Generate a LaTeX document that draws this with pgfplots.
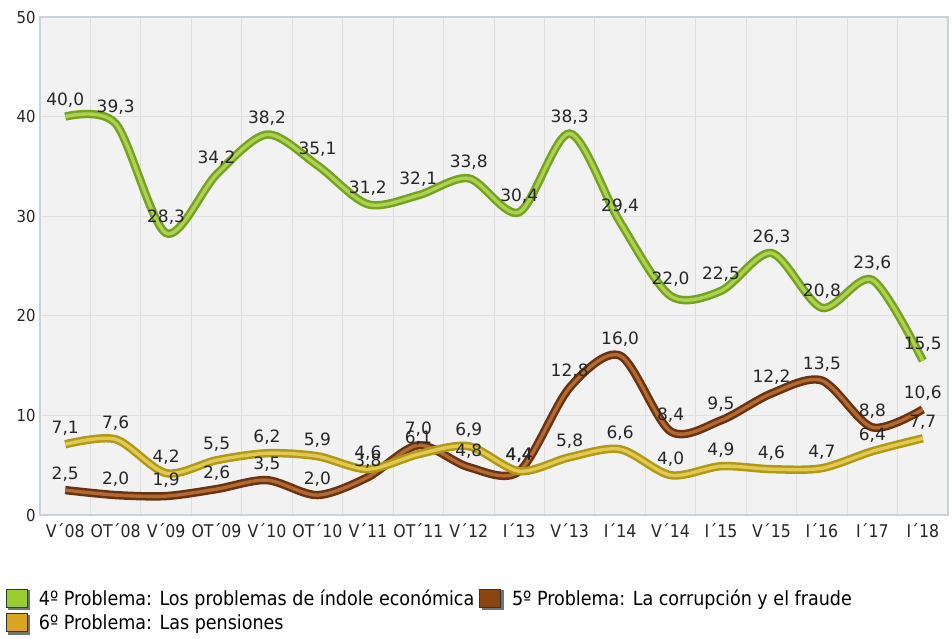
\documentclass[border=0pt]{standalone}
\usepackage{pgfplots}
\pgfplotsset{compat=1.18}
\usepackage{fontspec}
\setmainfont{DejaVu Sans}
\newfontfamily\cond{DejaVu Sans Condensed}
\definecolor{gOut}{HTML}{75A222}
\definecolor{gIn}{HTML}{AED150}
\definecolor{bOut}{HTML}{6A3210}
\definecolor{bIn}{HTML}{B06A32}
\definecolor{yOut}{HTML}{B09818}
\definecolor{yIn}{HTML}{E2CA50}
\definecolor{gLeg}{HTML}{9ACD32}
\definecolor{bLeg}{HTML}{8B4513}
\definecolor{yLeg}{HTML}{DAA520}
\definecolor{frameC}{HTML}{C9D2DD}
\definecolor{gridC}{HTML}{DEDEDE}
\definecolor{bgC}{HTML}{F2F2F2}

\pgfplotstableread{
x green brown yellow
0  40.0  2.5 7.1
1  39.3  2.0 7.6
2  28.3  1.9 4.2
3  34.2  2.6 5.5
4  38.2  3.5 6.2
5  35.1  2.0 5.9
6  31.2  3.8 4.6
7  32.1  7.0 6.1
8  33.8  4.8 6.9
9  30.4  4.4 4.4
10 38.3 12.8 5.8
11 29.4 16.0 6.6
12 22.0  8.4 4.0
13 22.5  9.5 4.9
14 26.3 12.2 4.6
15 20.8 13.5 4.7
16 23.6  8.8 6.4
17 15.5 10.6 7.7
}\datatable

\begin{document}
\begin{tikzpicture}[x=1pt,y=1pt]
\path[use as bounding box] (0,0) rectangle (952,639);
\begin{axis}[
  at={(40pt,124pt)}, anchor=south west,
  scale only axis, width=908pt, height=498pt,
  xmin=-0.5, xmax=17.5, ymin=0, ymax=50,
  axis background/.style={fill=bgC},
  axis line style={draw=frameC, line width=2.5pt},
  xtick={0,...,17},
  xticklabels={V´08,OT´08,V´09,OT´09,V´10,OT´10,V´11,OT´11,V´12,I´13,V´13,I´14,V´14,I´15,V´15,I´16,I´17,I´18},
  minor xtick={0.5,1.5,...,16.5},
  xminorgrids=true, xmajorgrids=false,
  ytick={0,10,...,50},
  ymajorgrids=true,
  grid style={draw=gridC, line width=1pt},
  minor grid style={draw=gridC, line width=1pt},
  major tick length=0pt, minor tick length=0pt,
  tick style={draw=none},
  /pgf/number format/assume math mode=true,
  xticklabel style={font=\cond\fontsize{17.5}{19}\selectfont, text=black!85, yshift=-5pt},
  yticklabel style={font=\cond\fontsize{16.5}{18}\selectfont, text=black!85, xshift=-1pt},
  nodes near coords={\pgfmathprintnumber[fixed,fixed zerofill,precision=1,use comma]{\pgfplotspointmeta}},
  every node near coord/.append style={font=\fontsize{17}{19}\selectfont, text=black!85, anchor=base, inner sep=0pt, yshift=11pt},
  clip=false,
  legend columns=2,
  legend cell align=left,
  legend style={at={(-0.0407,-0.142)}, anchor=north west, draw=none, fill=none,
    font=\cond\fontsize{19.5}{22}\selectfont, row sep=4pt,
    /tikz/every odd column/.append style={column sep=7pt},
    /tikz/every even column/.append style={column sep=3pt}},
]
% labels first (under the lines)
\addplot[draw=none, mark=none, forget plot] table[x=x, y=green] {\datatable};
\addplot[draw=none, mark=none, forget plot] table[x=x, y=brown] {\datatable};
\addplot[draw=none, mark=none, forget plot] table[x=x, y=yellow] {\datatable};
% lines
\addplot[smooth, draw=gOut, line width=2.5pt, double=gIn, double distance=3.4pt, nodes near coords={}, forget plot] table[x=x, y=green] {\datatable};
\addplot[smooth, draw=bOut, line width=2.5pt, double=bIn, double distance=3.4pt, nodes near coords={}, forget plot] table[x=x, y=brown] {\datatable};
\addplot[smooth, draw=yOut, line width=2.5pt, double=yIn, double distance=3.4pt, nodes near coords={}, forget plot] table[x=x, y=yellow] {\datatable};
\addlegendimage{legend image code/.code={\fill[black!55] (2pt,-10.5pt) rectangle (23pt,8.5pt); \draw[fill=gLeg, draw=black!80, line width=0.8pt] (0pt,-8.5pt) rectangle (21pt,9.5pt);}}
\addlegendentry{4º Problema: Los problemas de índole económica}
\addlegendimage{legend image code/.code={\fill[black!55] (2pt,-10.5pt) rectangle (23pt,8.5pt); \draw[fill=bLeg, draw=black!80, line width=0.8pt] (0pt,-8.5pt) rectangle (21pt,9.5pt);}}
\addlegendentry{5º Problema: La corrupción y el fraude}
\addlegendimage{legend image code/.code={\fill[black!55] (2pt,-10.5pt) rectangle (23pt,8.5pt); \draw[fill=yLeg, draw=black!80, line width=0.8pt] (0pt,-8.5pt) rectangle (21pt,9.5pt);}}
\addlegendentry{6º Problema: Las pensiones}
\end{axis}
\end{tikzpicture}
\end{document}
